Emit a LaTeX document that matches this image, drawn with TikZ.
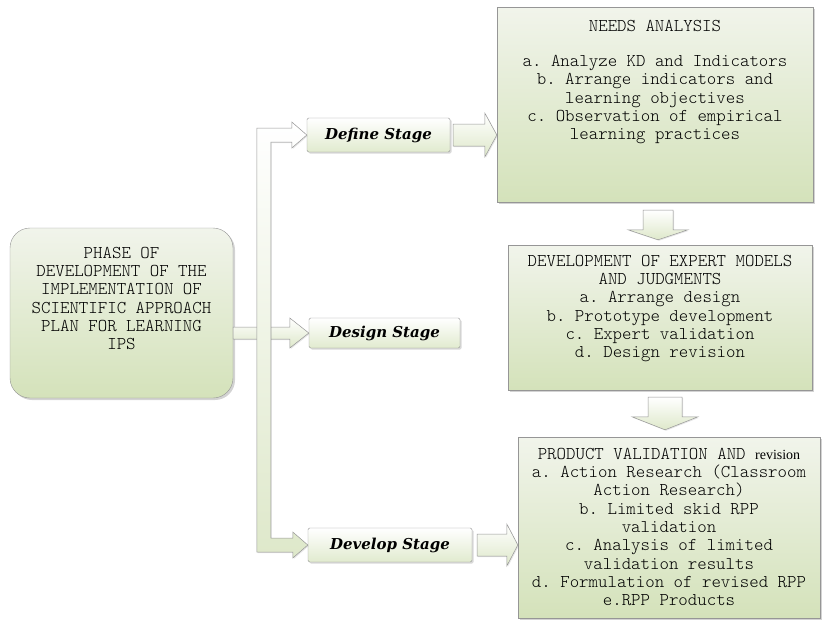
\documentclass[tikz,border=0pt]{standalone}
\usepackage{fontspec}
\setmonofont{Latin Modern Mono Light}
\newfontfamily\stagefont{DejaVu Serif}
\newfontfamily\revfont{Liberation Serif}
\usetikzlibrary{positioning,calc,shadows}

\definecolor{boxtop}{RGB}{241,244,235}
\definecolor{boxbottom}{RGB}{212,226,186}
\definecolor{edgegray}{RGB}{150,150,150}
\definecolor{arrowgreen}{RGB}{222,232,202}

% horizontal block arrow: from, to, shaft half width, head half width, head length
\newcommand{\harrow}[5]{%
  \path[block] ($(#1)+(0,-#3)$) -- ($(#2)+(-#5,-#3)$) -- ($(#2)+(-#5,-#4)$) -- (#2)
    -- ($(#2)+(-#5,#4)$) -- ($(#2)+(-#5,#3)$) -- ($(#1)+(0,#3)$) -- cycle;}
% vertical block arrow (pointing down), same arguments
\newcommand{\varrow}[5]{%
  \path[block] ($(#1)+(-#3,0)$) -- ($(#2)+(-#3,-#5)$) -- ($(#2)+(-#4,-#5)$) -- (#2)
    -- ($(#2)+(#4,-#5)$) -- ($(#2)+(#3,-#5)$) -- ($(#1)+(#3,0)$) -- cycle;}

\begin{document}
\begin{tikzpicture}[x=1pt,y=-1pt]
  \tikzstyle{bigbox}=[draw=edgegray, top color=boxtop, bottom color=boxbottom, inner sep=0pt,
    drop shadow={shadow xshift=2pt,shadow yshift=-2pt,opacity=.35}]
  \tikzstyle{stagebox}=[draw=edgegray, rounded corners=1.5pt, top color=white, bottom color=boxbottom!70,
    inner sep=0pt, font=\stagefont\bfseries\itshape\fontsize{15}{18}\selectfont,
    drop shadow={shadow xshift=1.5pt,shadow yshift=-1.5pt,opacity=.3}]
  \tikzstyle{boxtext}=[align=center, inner sep=0pt, font=\ttfamily\fontsize{18}{18.3}\selectfont]
  \tikzstyle{block}=[draw=edgegray, line width=0.5pt, top color=white, bottom color=arrowgreen,
    drop shadow={shadow xshift=1pt,shadow yshift=-1pt,opacity=.2}]

  \useasboundingbox (0,0) rectangle (824,622);

  % left phase box
  \node [bigbox, rounded corners=20pt, minimum width=223pt, minimum height=170pt] (main) at (121.5,313) {};
  \node [boxtext, below=19pt of main.north] (maintext) {PHASE OF\\DEVELOPMENT OF THE\\IMPLEMENTATION OF\\SCIENTIFIC APPROACH\\PLAN FOR LEARNING\\IPS};

  % stages
  \node [stagebox, minimum width=143pt, minimum height=34pt] (define) at (378.5,135) {Define Stage};
  \node [stagebox, minimum width=151pt, minimum height=30pt] (design) at (384.5,333) {Design Stage};
  \node [stagebox, minimum width=164pt, minimum height=34pt] (develop) at (390,545) {Develop Stage};

  % right boxes
  \node [bigbox, minimum width=316pt, minimum height=195pt] (needs) at (655,104.5) {};
  \node [boxtext, below=13pt of needs.north] (needstext) {NEEDS ANALYSIS\\[17pt]a. Analyze KD and Indicators\\b. Arrange indicators and\\learning objectives\\c. Observation of empirical\\learning practices};
  \node [bigbox, minimum width=304pt, minimum height=145pt] (experts) at (660,317.5) {};
  \node [boxtext, below=10pt of experts.north] (expertstext) {DEVELOPMENT OF EXPERT MODELS\\AND JUDGMENTS\\a. Arrange design\\b. Prototype development\\c. Expert validation\\d. Design revision};
  \node [bigbox, minimum width=302pt, minimum height=181pt] (product) at (669,527.5) {};
  \node [boxtext, below=11pt of product.north] (producttext) {PRODUCT VALIDATION AND {\revfont\fontsize{14}{18.3}\selectfont revision}\\a. Action Research (Classroom\\Action Research)\\b. Limited skid RPP\\validation\\c. Analysis of limited\\validation results\\d. Formulation of revised RPP\\e.RPP Products};

  % arrows
  \harrow{main.east |- design.west}{design.west}{6}{15}{19}
  \path[block] ($(define.west)+(-50,-7)$) -- ($(define.west)+(-15,-7)$) -- ($(define.west)+(-15,-13)$) -- (define.west)
    -- ($(define.west)+(-15,13)$) -- ($(define.west)+(-15,7)$) -- ($(define.west)+(-36,7)$)
    -- ($(develop.west)+(-37,-7)$) -- ($(develop.west)+(-15,-7)$) -- ($(develop.west)+(-15,-13)$) -- (develop.west)
    -- ($(develop.west)+(-15,13)$) -- ($(develop.west)+(-15,7)$) -- ($(develop.west)+(-51,7)$) -- cycle;

  \coordinate (dn1) at ($(define.east)+(3,0)$);
  \coordinate (dn2) at (needs.west |- define.east);
  \harrow{dn1}{dn2}{11}{22}{12}
  \coordinate (dp1) at ($(develop.east)+(5,0)$);
  \coordinate (dp2) at (product.west |- develop.east);
  \harrow{dp1}{dp2}{11}{21}{11}

  \coordinate (ne0) at (experts.north |- needs.south);
  \coordinate (ne1) at ($(ne0)+(-2,8)$);
  \coordinate (ne2) at ($(experts.north)+(-2,-5)$);
  \varrow{ne1}{ne2}{15}{30}{10}
  \coordinate (ep0) at (product.north |- experts.south);
  \coordinate (ep1) at ($(ep0)+(-4,7)$);
  \coordinate (ep2) at ($(product.north)+(-4,-7)$);
  \varrow{ep1}{ep2}{17}{33}{13}
\end{tikzpicture}
\end{document}
